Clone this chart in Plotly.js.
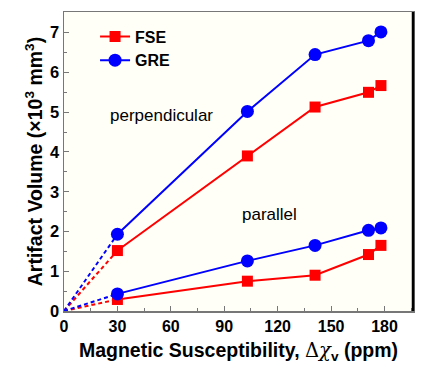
<!DOCTYPE html>
<html><head><meta charset="utf-8">
<script src="https://cdn.plot.ly/plotly-3.0.1.min.js"></script>
<style>html,body{margin:0;padding:0;background:#fff}#c{width:429px;height:376px}</style>
</head><body><div id="c"></div>
<script>
const susceptibility = [30, 103, 141, 171, 178];
const fsePerp = [1.52, 3.90, 5.13, 5.50, 5.67];
const grePerp = [1.93, 5.02, 6.45, 6.80, 7.02];
const fsePar = [0.29, 0.75, 0.90, 1.42, 1.65];
const grePar = [0.43, 1.26, 1.65, 2.03, 2.09];
const origin = [0, 0];

const red = '#ff0000', blue = '#0000ff';
function solid(y, color, sym, size, name, show) {
  return {x: susceptibility, y: y, mode: 'lines+markers', name: name, showlegend: show,
    line: {color: color, width: 2}, marker: {color: color, symbol: sym, size: size}};
}
function dashed(y, color) {
  return {x: [origin[0], susceptibility[0]], y: [origin[1], y[0]], mode: 'lines', showlegend: false,
    line: {color: color, width: 2, dash: '4px,3px'}, hoverinfo: 'skip'};
}
const traces = [
  dashed(fsePerp, red), dashed(grePerp, blue), dashed(fsePar, red), dashed(grePar, blue),
  solid(fsePerp, red, 'square', 11, 'FSE', true),
  solid(grePerp, blue, 'circle', 13, 'GRE', true),
  solid(fsePar, red, 'square', 11, 'FSE', false),
  solid(grePar, blue, 'circle', 13, 'GRE', false)
];
const fam = 'Arial, "Liberation Sans", sans-serif';
const layout = {
  width: 429, height: 376,
  margin: {l: 64, r: 16, t: 12, b: 65},
  paper_bgcolor: '#ffffff', plot_bgcolor: '#fffff7',
  font: {family: fam, color: '#000'},
  xaxis: {range: [0, 196], tickvals: [0, 30, 60, 90, 120, 150, 180], ticks: 'inside', ticklen: 5,
    minor: {dtick: 15, tick0: 0, ticks: 'inside', ticklen: 3, tickcolor: '#777'},
    tickcolor: '#777', showgrid: false, zeroline: false, showline: true, linecolor: '#777', linewidth: 1.5, mirror: true,
    tickfont: {size: 16, weight: 'bold', family: fam},
    title: {text: 'Magnetic Susceptibility, <span style="font-family:DejaVu Serif;font-weight:normal">Δ<i>χ</i></span><sub>v</sub> (ppm)', font: {size: 19.5, weight: 'bold', family: fam}, standoff: 9}},
  yaxis: {range: [0, 7.52], dtick: 1, ticks: 'inside', ticklen: 5,
    minor: {dtick: 0.5, ticks: 'inside', ticklen: 3, tickcolor: '#777'},
    tickcolor: '#777', showgrid: false, zeroline: false, showline: true, linecolor: '#777', linewidth: 1.5, mirror: true,
    tickfont: {size: 16.5, weight: 'bold', family: fam},
    title: {text: 'Artifact Volume (×10<sup>3</sup> mm<sup>3</sup>)', font: {size: 19.5, weight: 'bold', family: fam}, standoff: 2}},
  legend: {x: 0.089, y: 0.975, xanchor: 'left', yanchor: 'top', bgcolor: 'rgba(0,0,0,0)',
    font: {size: 16, weight: 'bold', family: fam}, itemwidth: 30, tracegroupgap: 0},
  annotations: [
    {x: 0.126, y: 0.6555, xref: 'paper', yref: 'paper', text: 'perpendicular', showarrow: false, xanchor: 'left', yanchor: 'middle', font: {size: 17, family: fam}},
    {x: 0.504, y: 0.3244, xref: 'paper', yref: 'paper', text: 'parallel', showarrow: false, xanchor: 'left', yanchor: 'middle', font: {size: 17, family: fam}}
  ],
  shapes: [{type: 'line', xref: 'paper', yref: 'paper', x0: 1, x1: 1, y0: 0, y1: 1, line: {color: '#000', width: 2.5}}]
};
Plotly.newPlot('c', traces, layout, {displayModeBar: false, staticPlot: true});
</script></body></html>
